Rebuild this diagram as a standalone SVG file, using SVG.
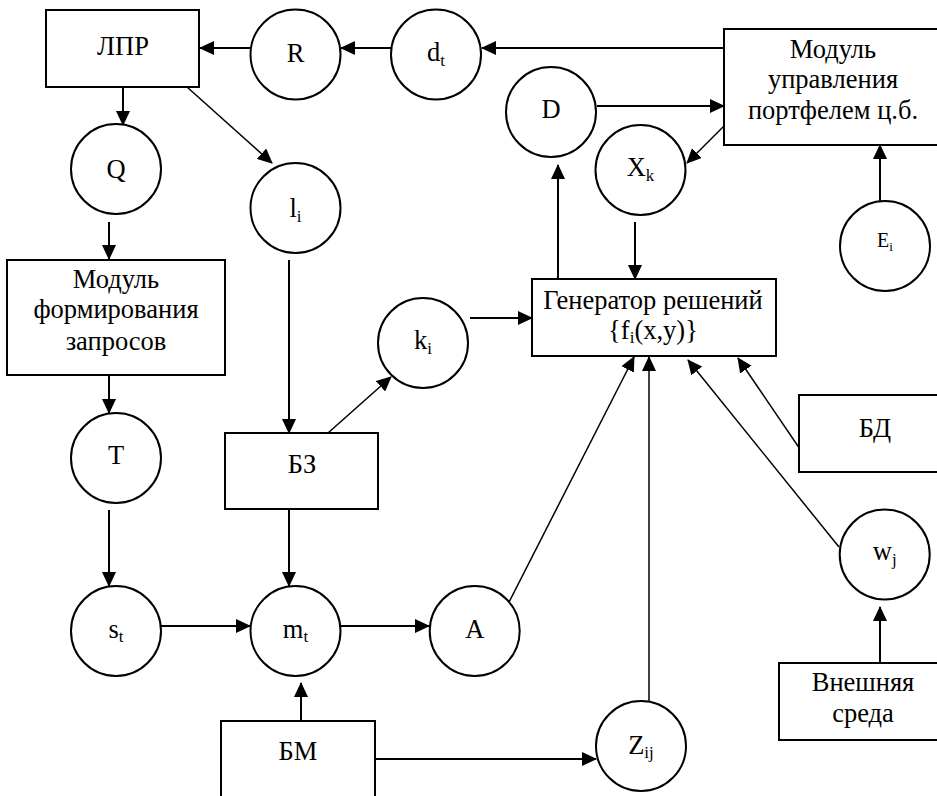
<svg xmlns="http://www.w3.org/2000/svg" width="937" height="796" viewBox="0 0 937 796">
<style>
text{font-family:"Liberation Serif","Times New Roman",serif;font-size:26.5px;fill:#000;text-anchor:middle}
.sub{font-size:17px}
.small{font-size:20px}
.node rect,.node circle{fill:#fff;stroke:#000;stroke-width:2}
.c{stroke:#000;stroke-width:2;fill:none;marker-end:url(#ah)}
.t{stroke-width:1.5}
</style>
<defs>
<marker id="ah" markerUnits="userSpaceOnUse" markerWidth="15" markerHeight="14" refX="14" refY="7" orient="auto">
<path d="M0,0 L15,7 L0,14 Z" fill="#000"/>
</marker>
</defs>
<rect width="937" height="796" fill="#fff"/>
<g id="connectors">
<path class="c" d="M391,48 L341,48"/>
<path class="c" d="M250,48 L200,48"/>
<path class="c" d="M724,48 L482,48"/>
<path class="c" d="M123,87 L123,125"/>
<path class="c t" d="M187,87 L272,163"/>
<path class="c" d="M109,222 L109,259"/>
<path class="c" d="M109,375 L109,413"/>
<path class="c" d="M109,510 L109,586"/>
<path class="c" d="M289,260 L289,433"/>
<path class="c t" d="M328,433 L391,377"/>
<path class="c" d="M289,509 L289,586"/>
<path class="c" d="M161,626 L250,626"/>
<path class="c" d="M341,626 L429,626"/>
<path class="c" d="M301,721 L301,683"/>
<path class="c" d="M366,759 L596,759"/>
<path class="c t" d="M649,702 L649,357"/>
<path class="c t" d="M507,606 L634,357"/>
<path class="c t" d="M839,547 L688,360"/>
<path class="c t" d="M802,452 L738,358"/>
<path class="c" d="M880,663 L880,607"/>
<path class="c" d="M470,318 L532,318"/>
<path class="c" d="M635,222 L635,279"/>
<path class="c" d="M558,279 L558,165"/>
<path class="c" d="M597,106 L724,106"/>
<path class="c t" d="M724,126 L687,163"/>
<path class="c" d="M880,202 L880,145"/>
</g>
<g id="n-lpr" class="node"><rect x="46" y="10" width="153" height="77"/><text x="123" y="55">ЛПР</text></g>
<g id="n-R" class="node"><circle cx="295.5" cy="54.5" r="45"/><text x="295.5" y="62">R</text></g>
<g id="n-dt" class="node"><circle cx="436" cy="54.5" r="45"/><text x="436" y="61">d<tspan class="sub" dy="5">t</tspan></text></g>
<g id="n-Q" class="node"><circle cx="116" cy="169" r="45"/><text x="116" y="178">Q</text></g>
<g id="n-li" class="node"><circle cx="295.5" cy="208" r="45"/><text x="295.5" y="217">l<tspan class="sub" dy="5">i</tspan></text></g>
<g id="n-D" class="node"><circle cx="551" cy="112" r="45"/><text x="551" y="118">D</text></g>
<g id="n-Xk" class="node"><circle cx="640.5" cy="170" r="45"/><text x="640.5" y="176">X<tspan class="sub" dy="5">k</tspan></text></g>
<g id="n-Ei" class="node"><circle cx="885" cy="246" r="45"/><text class="small" x="885" y="247">E<tspan class="sub" style="font-size:13px" dy="4">i</tspan></text></g>
<g id="n-mup" class="node"><rect x="724" y="29" width="220" height="116"/><text x="833" y="58">Модуль</text><text x="833" y="88">управления</text><text x="833" y="119">портфелем ц.б.</text></g>
<g id="n-mfz" class="node"><rect x="7" y="260" width="218" height="115"/><text x="116" y="288">Модуль</text><text x="116" y="318">формирования</text><text x="116" y="350">запросов</text></g>
<g id="n-ki" class="node"><circle cx="423" cy="343" r="45"/><text x="423" y="349">k<tspan class="sub" dy="5">i</tspan></text></g>
<g id="n-gen" class="node"><rect x="532" y="279" width="244" height="77"/><text x="653" y="309">Генератор решений</text><text x="653" y="339">{f<tspan class="sub" dy="4">i</tspan><tspan dy="-4">(x,y)}</tspan></text></g>
<g id="n-bd" class="node"><rect x="799" y="395" width="150" height="77"/><text x="875" y="437">БД</text></g>
<g id="n-T" class="node"><circle cx="116" cy="458" r="45"/><text x="116" y="464">T</text></g>
<g id="n-bz" class="node"><rect x="225" y="433" width="153" height="76"/><text x="302" y="473">БЗ</text></g>
<g id="n-wj" class="node"><circle cx="884.7" cy="554.5" r="45"/><text x="884.7" y="560">w<tspan class="sub" dy="5">j</tspan></text></g>
<g id="n-st" class="node"><circle cx="116" cy="631" r="45"/><text x="116" y="638">s<tspan class="sub" dy="4">t</tspan></text></g>
<g id="n-mt" class="node"><circle cx="295.5" cy="631" r="45"/><text x="295.5" y="638">m<tspan class="sub" dy="4">t</tspan></text></g>
<g id="n-A" class="node"><circle cx="474.7" cy="631" r="45"/><text x="474.7" y="638">A</text></g>
<g id="n-vs" class="node"><rect x="779" y="663" width="170" height="77"/><text x="863" y="691">Внешняя</text><text x="863" y="722">среда</text></g>
<g id="n-bm" class="node"><rect x="221" y="721" width="154" height="100"/><text x="298" y="760">БМ</text></g>
<g id="n-Zij" class="node"><circle cx="641" cy="746" r="45"/><text x="641" y="754">Z<tspan class="sub" dy="4">ij</tspan></text></g>
</svg>
